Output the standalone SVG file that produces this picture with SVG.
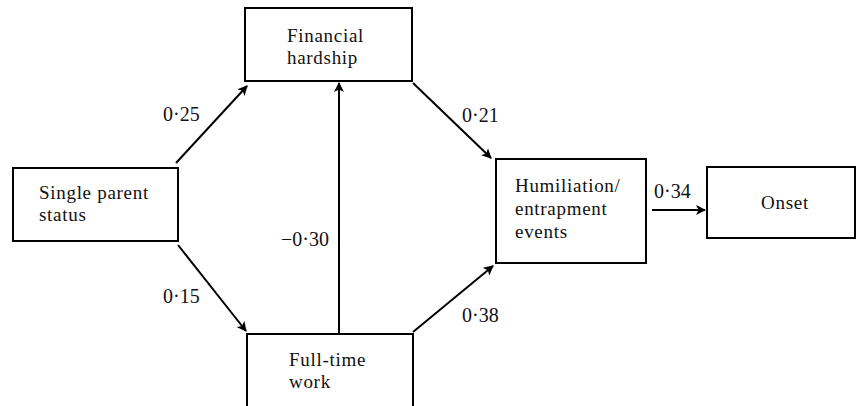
<svg xmlns="http://www.w3.org/2000/svg" width="860" height="406" viewBox="0 0 860 406">
<defs>
<marker id="ah" viewBox="0 0 10 10" refX="9" refY="5" markerWidth="10" markerHeight="10" markerUnits="userSpaceOnUse" orient="auto">
<path d="M0,0 L10,5 L0,10 L2.5,5 Z" fill="#000"/>
</marker>
<style>
.box{fill:#fff;stroke:#000;stroke-width:2}
.t{font-family:"Liberation Serif","Times New Roman",serif;font-size:19px;letter-spacing:0.7px;fill:#111}
.l{font-family:"Liberation Serif","Times New Roman",serif;font-size:20px;fill:#111}
.c{stroke:#000;stroke-width:2;fill:none;marker-end:url(#ah)}
</style>
</defs>
<rect width="860" height="406" fill="#fff"/>
<g id="connectors">
<line class="c" x1="176" y1="163" x2="247" y2="86"/>
<line class="c" x1="178" y1="245" x2="246" y2="331"/>
<line class="c" x1="413" y1="83" x2="491" y2="158"/>
<line class="c" x1="413" y1="332" x2="493" y2="266"/>
<line class="c" x1="339" y1="334" x2="339" y2="83"/>
<line class="c" x1="652" y1="210" x2="705" y2="210"/>
<text class="l" x="163" y="121">0·25</text>
<text class="l" x="163" y="303">0·15</text>
<text class="l" x="462" y="122">0·21</text>
<text class="l" x="462" y="322">0·38</text>
<text class="l" x="281" y="246">−0·30</text>
<text class="l" x="654" y="198">0·34</text>
</g>
<g id="single">
<rect class="box" x="13" y="168" width="165" height="73"/>
<text class="t" x="39" y="199">Single parent</text>
<text class="t" x="39" y="221">status</text>
</g>
<g id="financial">
<rect class="box" x="245" y="8" width="167" height="73"/>
<text class="t" x="287" y="42">Financial</text>
<text class="t" x="287" y="64">hardship</text>
</g>
<g id="fulltime">
<rect class="box" x="247" y="334" width="166" height="80"/>
<text class="t" x="289" y="366">Full-time</text>
<text class="t" x="289" y="388">work</text>
</g>
<g id="humiliation">
<rect class="box" x="496" y="159" width="150" height="104"/>
<text class="t" x="515" y="192">Humiliation/</text>
<text class="t" x="515" y="215">entrapment</text>
<text class="t" x="515" y="238">events</text>
</g>
<g id="onset">
<rect class="box" x="707" y="167" width="148" height="71"/>
<text class="t" x="785" y="209" text-anchor="middle">Onset</text>
</g>
</svg>
